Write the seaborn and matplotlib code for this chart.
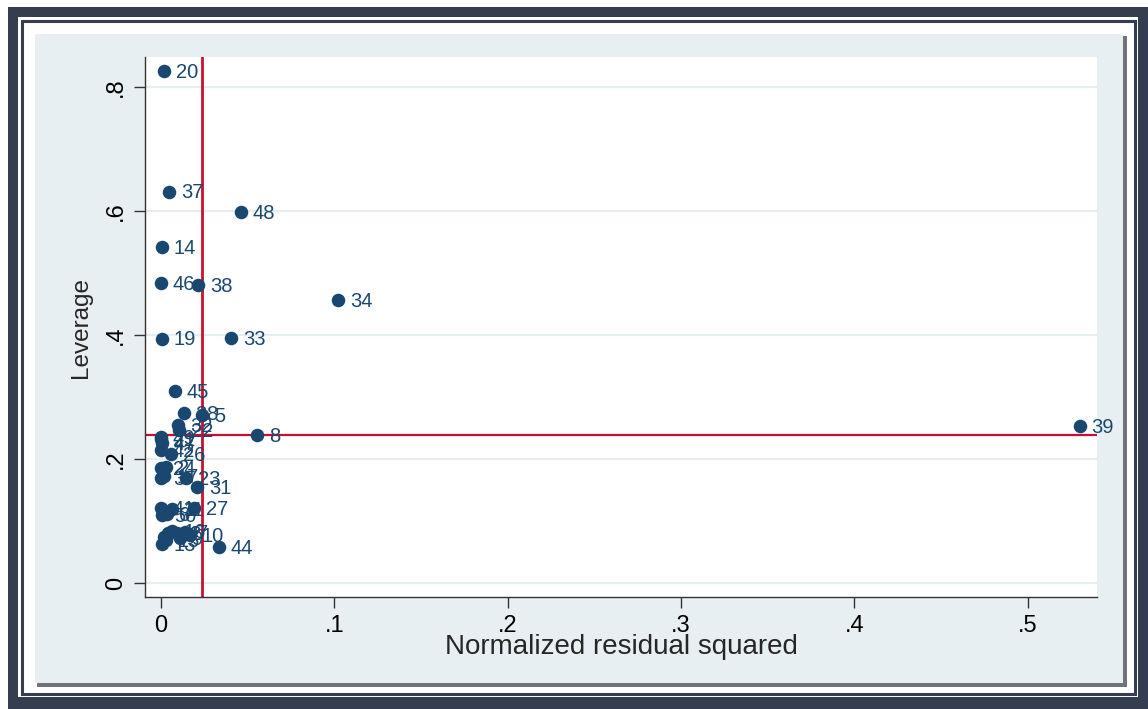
import matplotlib
matplotlib.use("Agg")
import matplotlib.pyplot as plt
from matplotlib.patches import Rectangle
import seaborn as sns
import pandas as pd

# ---- data ----
obs_labels = ["20", "37", "48", "14", "46", "38", "34", "19", "33", "45",
              "39", "8", "28", "5", "32", "22", "49", "47", "42", "26",
              "24", "2", "3", "23", "31", "27", "41", "11", "50", "6",
              "16", "7", "10", "4", "12", "13", "15", "44", "1", "9",
              "17", "21"]
resid_sq = [0.0017, 0.0046, 0.0462, 0.0006, 0.0000, 0.0214, 0.1022, 0.0006, 0.0404, 0.0081,
            0.5300, 0.0554, 0.0133, 0.0237, 0.0098, 0.0104, 0.0000, 0.0006, 0.0000, 0.0058,
            0.0000, 0.0030, 0.0000, 0.0144, 0.0208, 0.0190, 0.0000, 0.0064, 0.0006, 0.0035,
            0.0064, 0.0139, 0.0167, 0.0017, 0.0040, 0.0006, 0.0029, 0.0335, 0.0090, 0.0110,
            0.0020, 0.0000]
leverage = [0.826, 0.631, 0.598, 0.542, 0.484, 0.481, 0.456, 0.394, 0.395, 0.310,
            0.253, 0.239, 0.274, 0.271, 0.255, 0.247, 0.235, 0.226, 0.215, 0.208,
            0.185, 0.187, 0.169, 0.169, 0.155, 0.121, 0.121, 0.119, 0.110, 0.111,
            0.084, 0.082, 0.077, 0.074, 0.081, 0.063, 0.069, 0.058, 0.080, 0.072,
            0.172, 0.232]
mean_resid = 0.0238
mean_lev = 0.2387
x_ticks = [0, 0.1, 0.2, 0.3, 0.4, 0.5]
x_ticklabels = ["0", ".1", ".2", ".3", ".4", ".5"]
y_ticks = [0, 0.2, 0.4, 0.6, 0.8]
y_ticklabels = ["0", ".2", ".4", ".6", ".8"]
x_title = "Normalized residual squared"
y_title = "Leverage"

df = pd.DataFrame({"label": obs_labels, "resid": resid_sq, "lev": leverage})

sns.set_style("white")
plt.rcParams["font.family"] = ["Liberation Sans", "DejaVu Sans"]

W, H = 1148, 709
fig = plt.figure(figsize=(W / 100, H / 100), dpi=100)
fig.patch.set_facecolor("white")

def rect(x0, y0, x1, y1, **kw):
    # pixel coords measured from top-left
    r = Rectangle((x0 / W, 1 - y1 / H), (x1 - x0) / W, (y1 - y0) / H,
                  transform=fig.transFigure, **kw)
    fig.patches.append(r)

DARK = "#343e50"
PANEL = "#e8eff2"
rect(8, 7, W, H, facecolor=DARK, edgecolor="none", zorder=-5)
rect(18, 17, 1138, 697, facecolor="white", edgecolor="none", zorder=-4.9)
rect(21.5, 20.5, 1134.5, 693.5, facecolor="none", edgecolor=DARK, linewidth=2.2, zorder=-4.8)
rect(25, 24, 1131, 690, facecolor="white", edgecolor="none", zorder=-4.7)
rect(37, 36, 1127, 687, facecolor="#6f747a", edgecolor="none", zorder=-4.6)
rect(35, 34, 1123, 683, facecolor=PANEL, edgecolor="none", zorder=-4.5)

ax = fig.add_axes([145 / W, 1 - 597 / H, (1097 - 145) / W, (597 - 57) / H])
ax.set_zorder(2)
ax.set_facecolor("white")

NAVY = "#1a476f"
RED = "#c8102e"

ax.set_xlim(-0.0092, 0.540)
ax.set_ylim(-0.0226, 0.848)

for yt in y_ticks:
    ax.axhline(yt, color="#e6eef0", linewidth=1.6, zorder=0)

ax.axvline(mean_resid, color=RED, linewidth=2, zorder=1)
ax.axhline(mean_lev, color=RED, linewidth=1.6, zorder=1)

sns.scatterplot(data=df, x="resid", y="lev", ax=ax, color=NAVY, s=95,
                edgecolor=NAVY, linewidth=0, zorder=3, legend=False)

for lab, xv, yv in zip(obs_labels, resid_sq, leverage):
    ax.annotate(lab, (xv, yv), xytext=(8.5, -1), textcoords="offset points",
                va="center", ha="left", fontsize=14.5, color=NAVY, zorder=4)

ax.set_xticks(x_ticks)
ax.set_xticklabels(x_ticklabels)
ax.set_yticks(y_ticks)
ax.set_yticklabels(y_ticklabels, rotation=90, va="center")
ax.tick_params(axis="both", direction="out", length=8, width=1, color="#333333",
               labelsize=17, labelcolor="black", pad=5)
ax.tick_params(axis="x", bottom=True)
ax.tick_params(axis="y", left=True)

for side in ["top", "right"]:
    ax.spines[side].set_visible(False)
for side in ["left", "bottom"]:
    ax.spines[side].set_color("#333333")
    ax.spines[side].set_linewidth(1)

ax.set_xlabel(x_title, fontsize=20, labelpad=-2)
ax.set_ylabel(y_title, fontsize=17.5, labelpad=9)

fig.savefig("out.png", dpi=100)
